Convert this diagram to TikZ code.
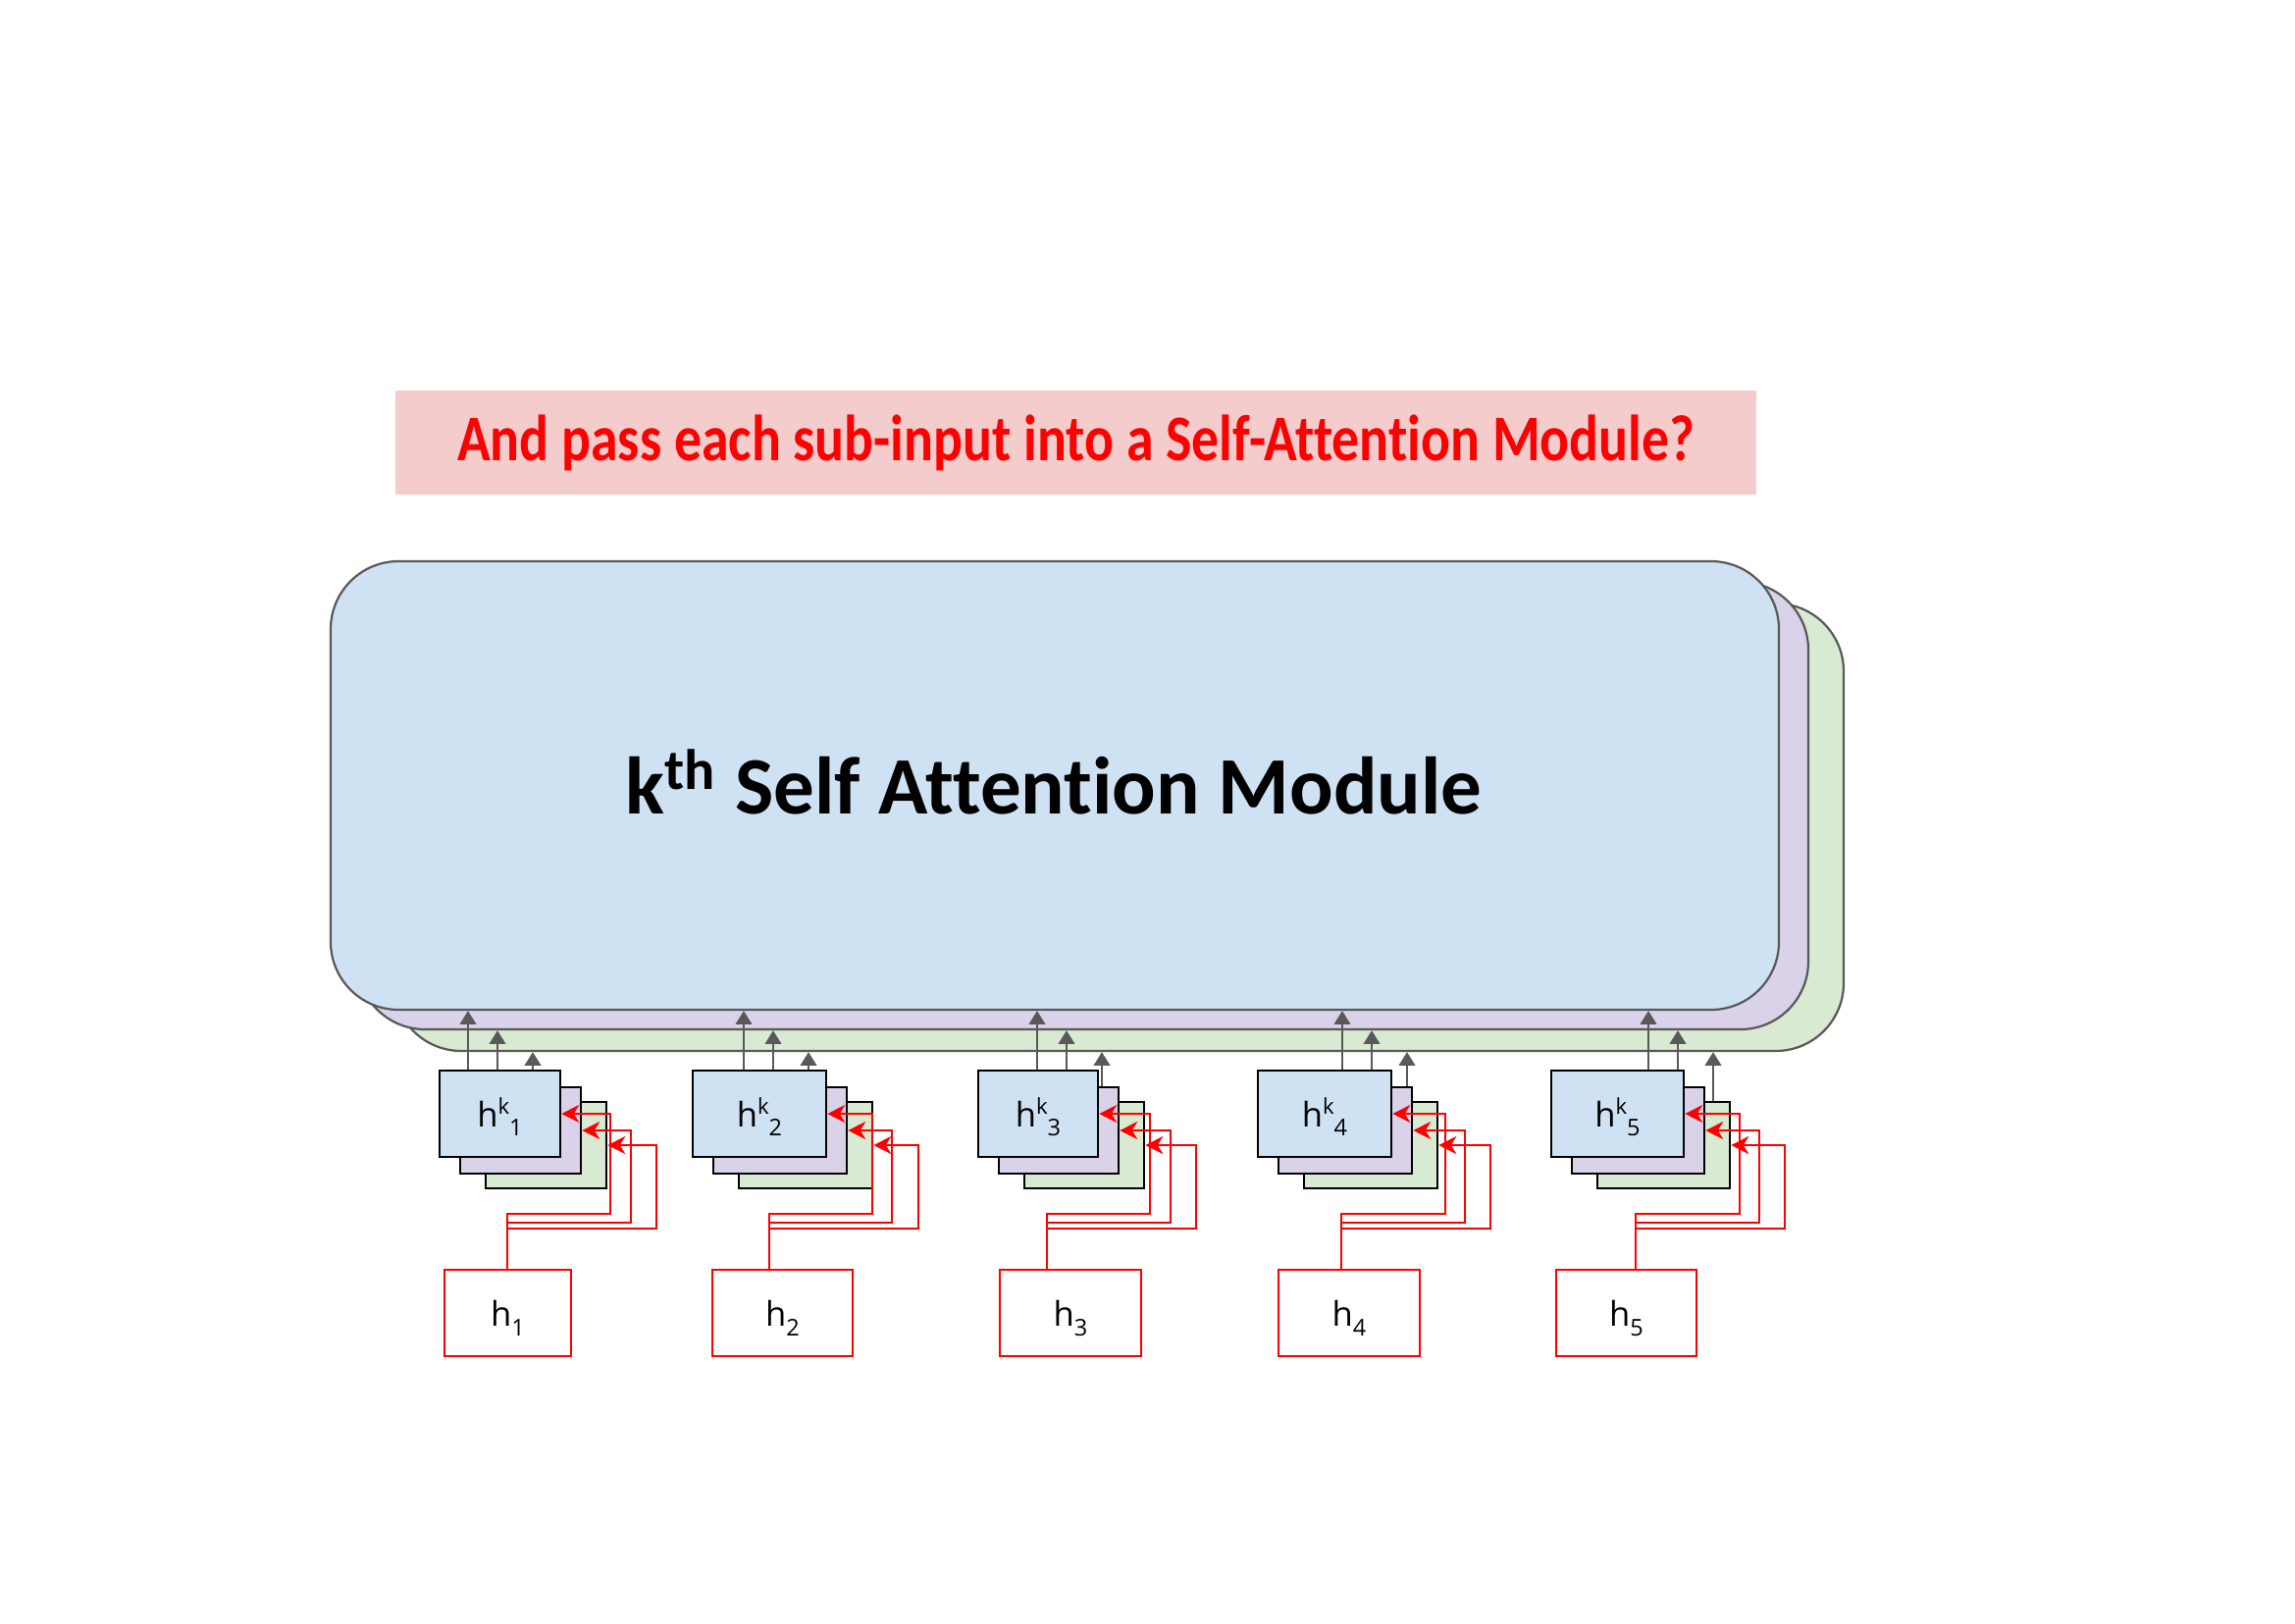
\documentclass[tikz,border=0pt]{standalone}
\usepackage{fontspec}
\setmainfont{Carlito}[Ligatures={NoCommon}]
\newfontfamily\labfont{Open Sans}
\usetikzlibrary{arrows.meta,fit}
\definecolor{bluef}{HTML}{CFE2F3}
\definecolor{purplef}{HTML}{D9D2E9}
\definecolor{greenf}{HTML}{D9EAD3}
\definecolor{pinkf}{HTML}{F4CCCC}
\definecolor{edgegray}{HTML}{595959}
\definecolor{pured}{HTML}{FF0000}
\def\pxu{0.36128pt}
\newcommand{\hk}[1]{h\raisebox{0.38em}{\fontsize{8}{8}\selectfont k}\raisebox{-0.26em}{\fontsize{8.5}{9}\selectfont #1}}
\newcommand{\hs}[1]{h\raisebox{-0.28em}{\fontsize{8.5}{9}\selectfont #1}}
\begin{document}
\begin{tikzpicture}[x=0.0126977cm,y=-0.0126977cm,
  bigbox/.style={draw=edgegray,line width=0.8pt,rounded corners=25pt,inner sep=0pt},
  sbox/.style={draw=black,line width=0.9pt,inner sep=0pt,minimum height={88*\pxu}},
  rbox/.style={draw=pured,line width=0.9pt,fill=white,inner sep=0pt,minimum height={88*\pxu}},
  lab/.style={font=\labfont\fontsize{12.5}{14}\selectfont,text height=10pt,text depth=0pt},
  garrow/.style={draw=edgegray,line width=0.8pt,-{Triangle[length=5pt,width=6pt]}},
  rarrow/.style={draw=pured,line width=0.8pt,-{Stealth[length=6.5pt,width=6.5pt,inset=2pt]}}]
\useasboundingbox (0,0) rectangle (2339,1654);

% banner
\node[fill=pinkf,inner sep=0pt,minimum width={1387*\pxu},minimum height={106*\pxu},
      text=pured,font=\fontsize{24}{28}\selectfont\bfseries] (banner) at (1096.5,451)
      {\scalebox{0.84}[1]{And pass each sub-input into a Self-Attention Module?}};

% stacked modules
\node[bigbox,fill=greenf,fit={(401,615)(1879,1071)}] (mgreen) {};
\node[bigbox,fill=purplef,fit={(364,593)(1843,1049)}] (mpurple) {};
\node[bigbox,fill=bluef,fit={(337,572)(1813,1029)}] (mblue) {};
\node[font=\fontsize{30}{34}\selectfont\bfseries] (title) at (1074,797)
      {k\textsuperscript{th} Self Attention Module};

\foreach \i/\bl/\br/\a/\hl/\hr/\s/\va/\vb/\vc in {
  1/448/571/477/453/582/517/622/643/669,
  2/706/842/758/726/869/784/889/909/936,
  3/997/1119/1057/1019/1163/1067/1172/1193/1219,
  4/1282/1418/1368/1303/1447/1367/1473/1493/1519,
  5/1581/1716/1680/1586/1729/1667/1773/1793/1819}{
  \coordinate (xa\i) at (\a,0);
  \coordinate (xb\i) at (\a+30,0);
  \coordinate (xc\i) at (\a+66,0);
  \coordinate (xs\i) at (\s,0);
  % green layer + its arrow
  \node[sbox,fill=greenf,minimum width={(\br-\bl)*\pxu}] (g\i) at ({(\bl+\br)/2+47},1167) {};
  \draw[garrow] (g\i.north -| xc\i) -- (mgreen.south -| xc\i);
  % purple layer + its arrow
  \node[sbox,fill=purplef,minimum width={(\br-\bl)*\pxu}] (p\i) at ({(\bl+\br)/2+21},1152) {};
  \draw[garrow] (p\i.north -| xb\i) -- (mpurple.south -| xb\i);
  % blue layer + its arrow
  \node[sbox,fill=bluef,minimum width={(\br-\bl)*\pxu},lab] (b\i) at ({(\bl+\br)/2},1135) {\hk{\i}};
  \draw[garrow] (b\i.north -| xa\i) -- (mblue.south -| xa\i);
  % input box
  \node[rbox,minimum width={(\hr-\hl)*\pxu},lab] (h\i) at ({(\hl+\hr)/2},1338) {\hs{\i}};
  % red connectors
  \draw[rarrow] (h\i.north -| xs\i) |- (\va,1237) |- (b\i.east);
  \draw[rarrow] (h\i.north -| xs\i) |- (\vb,1246) |- (p\i.east);
  \draw[rarrow] (h\i.north -| xs\i) |- (\vc,1252) |- (g\i.east);
}
\end{tikzpicture}
\end{document}
